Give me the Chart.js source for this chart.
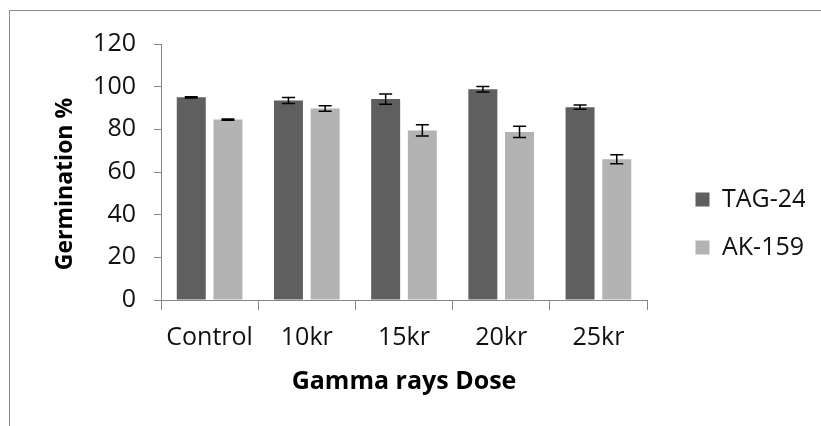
<!DOCTYPE html>
<html>
<head>
<meta charset="utf-8">
<script src="https://cdn.jsdelivr.net/npm/chart.js@4.4.1/dist/chart.umd.min.js"></script>
<style>
    html, body { margin: 0; padding: 0; background: #fff; overflow: hidden; }
    #frame {
        position: absolute; left: 9px; top: 10px;
        width: 812px; height: 416px;
        border-left: 1px solid #8a8a8a; border-top: 1px solid #8a8a8a;
        overflow: hidden;
    }
    #wrap { position: absolute; left: 0; top: 0; width: 811px; height: 394px; }
</style>
</head>
<body>
<div id="frame"><div id="wrap"><canvas id="germChart"></canvas></div></div>
<script>
// Data
const doses = ['Control', '10kr', '15kr', '20kr', '25kr'];
const tag24 = [95.0, 93.5, 94.2, 98.8, 90.4];
const tag24Err = [0.3, 1.4, 2.4, 1.3, 1.0];
const ak159 = [84.6, 89.8, 79.5, 78.8, 66.0];
const ak159Err = [0.3, 1.3, 2.6, 2.6, 2.1];
const yTicks = [0, 20, 40, 60, 80, 100, 120];

const errors = [tag24Err, ak159Err];
const axisColor = '#868686';
const fontName = '"Open Sans", "Liberation Sans", sans-serif';
const plotRight = 637;   // where the plot area should end (canvas px)
const rightMargin = 16;  // blank space right of the legend text

// Draw the error bars on top of the bars
const errorBarPlugin = {
    id: 'errorBars',
    afterDatasetsDraw(chart) {
        const ctx = chart.ctx;
        const yScale = chart.scales.y;
        ctx.save();
        ctx.strokeStyle = '#000';
        ctx.lineWidth = 1.5;
        chart.data.datasets.forEach(function(ds, i) {
            const meta = chart.getDatasetMeta(i);
            meta.data.forEach(function(bar, j) {
                const v = ds.data[j];
                const e = errors[i][j];
                const yTop = yScale.getPixelForValue(v + e);
                const yBot = yScale.getPixelForValue(v - e);
                const x = bar.x;
                ctx.beginPath();
                ctx.moveTo(x, yTop); ctx.lineTo(x, yBot);
                ctx.moveTo(x - 6.5, yTop); ctx.lineTo(x + 6.5, yTop);
                ctx.moveTo(x - 6.5, yBot); ctx.lineTo(x + 6.5, yBot);
                ctx.stroke();
            });
        });
        ctx.restore();
    }
};

// Y axis title, sits a little below the plot centre in the reference
const yTitlePlugin = {
    id: 'yTitle',
    afterDraw(chart) {
        const ctx = chart.ctx;
        const area = chart.chartArea;
        ctx.save();
        ctx.translate(55, (area.top + area.bottom) / 2 + 12);
        ctx.rotate(-Math.PI / 2);
        ctx.font = 'bold 23px ' + fontName;
        ctx.fillStyle = '#000';
        ctx.textAlign = 'center';
        ctx.textBaseline = 'middle';
        ctx.fillText('Germination %', 0, 0);
        ctx.restore();
    }
};

new Chart(document.getElementById('germChart'), {
    type: 'bar',
    data: {
        labels: doses,
        datasets: [{
            label: 'TAG-24',
            data: tag24,
            backgroundColor: '#5f5f5f',
            categoryPercentage: 0.755,
            barPercentage: 0.79
        }, {
            label: 'AK-159',
            data: ak159,
            backgroundColor: '#b3b3b3',
            categoryPercentage: 0.755,
            barPercentage: 0.79
        }]
    },
    options: {
        responsive: true,
        maintainAspectRatio: false,
        animation: false,
        layout: {
            padding: { left: 0, right: rightMargin, top: 31, bottom: 0 }
        },
        scales: {
            x: {
                grid: {
                    offset: true,
                    drawOnChartArea: false,
                    tickLength: 10,
                    color: axisColor
                },
                border: { color: axisColor },
                ticks: {
                    padding: 13,
                    color: '#111',
                    font: { family: fontName, size: 25 }
                },
                title: {
                    display: true,
                    text: 'Gamma rays Dose',
                    color: '#000',
                    font: { family: fontName, size: 25, weight: 'bold' },
                    padding: { top: 0, bottom: 8 }
                },
                afterFit: function(scale) { scale.height = 105; }
            },
            y: {
                min: 0,
                max: 120,
                afterBuildTicks: function(scale) {
                    scale.ticks = yTicks.map(function(v) { return { value: v }; });
                },
                grid: {
                    drawOnChartArea: false,
                    tickLength: 7,
                    color: axisColor
                },
                border: { color: axisColor },
                ticks: {
                    padding: 18,
                    color: '#111',
                    font: { family: fontName, size: 25 }
                },
                afterFit: function(scale) { scale.width = 151; }
            },
            gap: {
                // empty spacer between plot and legend
                position: 'right',
                display: true,
                grid: { display: false },
                border: { display: false },
                ticks: { display: false },
                afterFit: function(scale) {
                    const lg = scale.chart.legend;
                    const lw = lg && lg.width ? lg.width : 135;
                    scale.width = Math.max(0, scale.chart.width - rightMargin - plotRight - lw);
                }
            }
        },
        plugins: {
            legend: {
                position: 'right',
                labels: {
                    boxWidth: 14,
                    boxHeight: 14,
                    padding: 23,
                    color: '#111',
                    font: { family: fontName, size: 25 }
                }
            },
            tooltip: { enabled: false }
        }
    },
    plugins: [errorBarPlugin, yTitlePlugin]
});
</script>
</body>
</html>
